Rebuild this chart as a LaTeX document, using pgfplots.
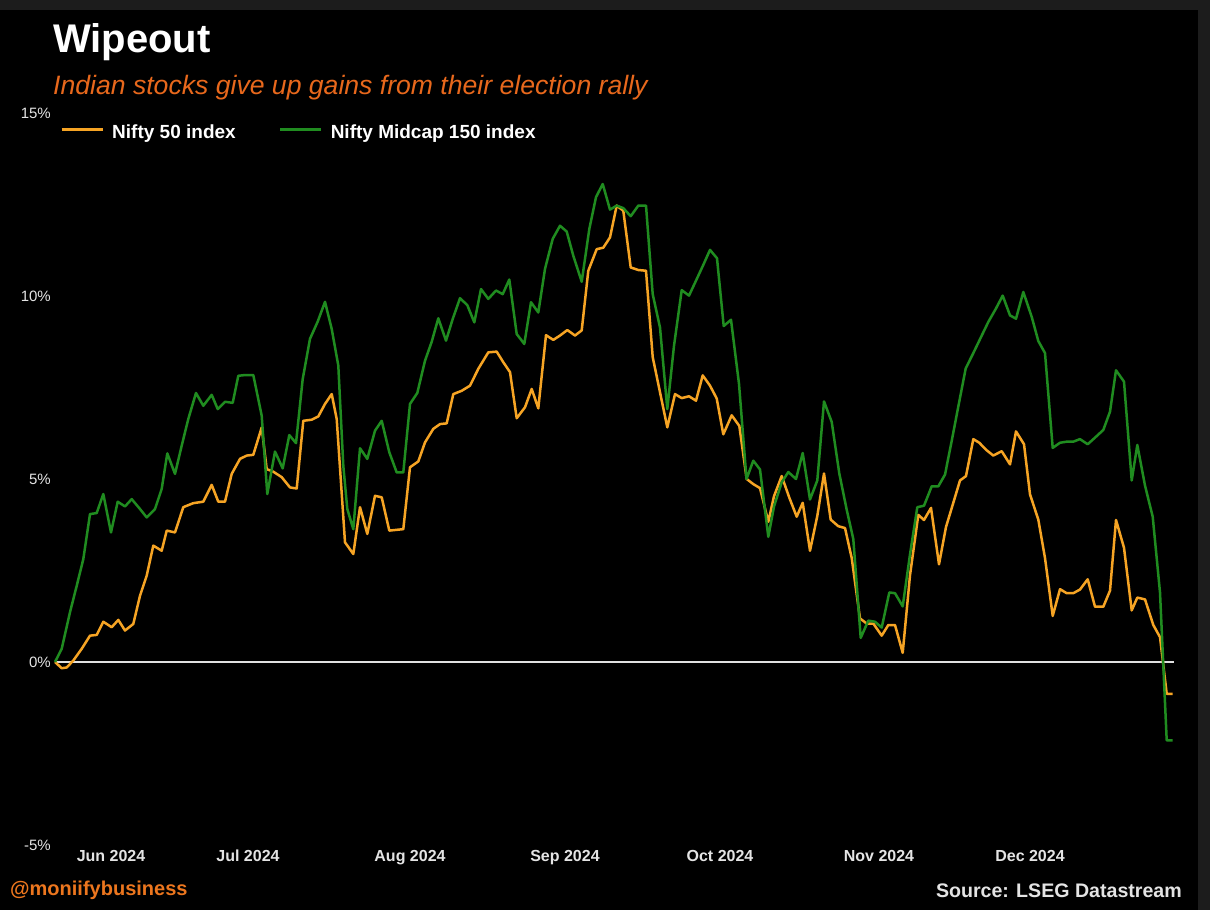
\documentclass[border=0pt]{standalone}
\usepackage{pgfplots}
\pgfplotsset{compat=1.18}
\usepackage{fontspec}
\setmainfont{Liberation Sans}
\definecolor{niftyorange}{RGB}{246,164,36}
\definecolor{midgreen}{RGB}{32,140,32}
\definecolor{subor}{RGB}{232,104,28}
\definecolor{footor}{RGB}{236,118,30}
\definecolor{framegray}{RGB}{28,28,28}
\definecolor{ticktext}{RGB}{228,228,228}

\pgfplotstableread{
x y
55 0
61.7 -0.17
66.7 -0.15
73.3 0.04
81.7 0.36
90 0.72
96.7 0.74
103.3 1.10
111.7 0.95
118.3 1.15
125 0.86
133.3 1.04
140 1.81
146.7 2.36
153.3 3.18
161.7 3.04
166.7 3.59
175 3.54
183.3 4.23
193.3 4.34
203.3 4.38
211.7 4.84
218.3 4.38
225 4.38
231.7 5.14
240 5.55
246.7 5.64
253.3 5.66
261.7 6.41
266.7 5.27
273.3 5.20
281.7 5.05
290 4.77
296.7 4.74
303.3 6.59
311.7 6.62
318.3 6.71
325 7.05
331.7 7.32
336.7 6.64
345 3.27
353.3 2.95
360 4.23
367.3 3.50
375 4.54
381.7 4.50
389.3 3.59
403.3 3.63
410 5.32
418.3 5.48
425 6.00
433.3 6.37
440 6.50
446.7 6.52
453.3 7.32
461.7 7.41
470 7.55
478.3 8.01
488.3 8.46
496.7 8.48
503.3 8.19
510 7.92
516.7 6.66
525 6.96
531.7 7.46
538.3 6.93
546 8.93
553.3 8.80
560 8.92
567.3 9.07
575 8.92
581.7 9.06
588.3 10.69
596.7 11.28
603.3 11.32
610 11.60
616.7 12.47
623.3 12.33
630.7 10.78
638.3 10.71
646 10.69
652.7 8.33
660 7.37
667.3 6.41
675 7.32
681.7 7.21
689 7.26
696 7.14
702.7 7.83
710 7.55
716.7 7.20
723.3 6.22
731.7 6.74
739.3 6.45
746.7 5.00
753.3 4.86
760 4.75
768.3 3.83
774 4.53
781.7 5.08
789.3 4.49
796.7 3.97
802.7 4.35
810 3.04
817.3 3.99
824 5.15
830.7 3.89
838.3 3.71
845 3.66
851.7 2.84
860 1.19
866.7 1.05
873.3 1.05
881.7 0.72
888.3 1.01
895 1.01
902.7 0.25
910 2.37
918.3 4.02
924 3.88
931 4.21
939 2.67
946 3.69
953.3 4.35
960 4.96
966 5.08
973.3 6.09
979.3 5.99
986 5.80
993.3 5.64
1001.7 5.76
1010 5.40
1016 6.30
1024 5.95
1030 4.58
1038.3 3.89
1045 2.84
1052.7 1.26
1060 1.99
1066.7 1.88
1073.3 1.88
1080 1.98
1087.7 2.26
1095 1.51
1103.3 1.51
1110 1.95
1116 3.88
1124 3.12
1131.7 1.41
1137.3 1.76
1145 1.71
1153.3 1.01
1160 0.68
1166.7 -0.87
1172.7 -0.87
}\niftyfifty

\pgfplotstableread{
x y
55 0
61.7 0.36
70 1.36
76.7 2.08
83.3 2.81
90 4.04
96.7 4.07
103.3 4.59
111 3.54
117.7 4.38
125 4.25
131.7 4.45
140 4.18
146.7 3.95
155 4.18
161.7 4.73
167.3 5.70
175 5.14
181.7 5.91
188.3 6.64
196 7.35
203.3 7.00
211.7 7.30
217.7 6.91
225 7.11
232.7 7.08
238.3 7.82
245 7.84
253.3 7.84
261.7 6.73
267.3 4.59
275 5.75
282.7 5.29
289.3 6.20
296 5.98
302.7 7.73
310 8.83
317.7 9.30
325 9.84
331.7 9.10
338.3 8.10
343.3 5.36
347.3 4.18
353.3 3.63
360 5.84
367.3 5.55
375 6.32
381.7 6.59
389.3 5.73
396.7 5.18
403.3 5.18
410 7.05
417.3 7.35
425 8.23
431.7 8.75
438.3 9.39
446 8.78
452.7 9.37
460 9.94
467.3 9.75
474.3 9.28
481 10.19
488.3 9.92
496 10.15
502.7 10.05
509.3 10.45
516.7 8.96
524.3 8.69
531 9.83
538.3 9.55
545 10.74
552.7 11.56
560 11.92
566.7 11.76
573.3 11.10
581.7 10.39
589.3 11.83
596 12.70
602.7 13.06
610 12.36
616.7 12.47
623.3 12.40
630.7 12.18
638.3 12.47
646 12.47
652.7 10.05
660 9.14
667.3 6.91
674 8.64
681.7 10.16
689 10.01
696 10.42
703.3 10.85
710 11.26
717 11.03
723.7 9.18
731 9.35
739 7.60
746.5 5.00
753.3 5.50
760 5.26
768.3 3.42
774 4.25
781.7 4.91
788.3 5.19
796 5.00
802.7 5.71
810 4.44
817.3 4.96
824 7.12
831.7 6.56
839.3 5.15
846.7 4.16
853.3 3.36
860.7 0.66
868.3 1.13
875 1.10
881.7 0.94
889.3 1.90
895 1.88
902.7 1.52
910 2.94
917.3 4.23
924 4.27
931.7 4.80
938.3 4.80
945 5.12
951.7 6.04
958.3 6.98
965.7 8.02
973.3 8.44
980.7 8.86
988.3 9.29
996 9.66
1002.7 10.01
1010 9.47
1016 9.38
1023.3 10.11
1031.7 9.43
1038.3 8.77
1045 8.44
1052.7 5.85
1060 5.99
1066.7 6.02
1073.3 6.02
1080 6.09
1087.7 5.95
1095 6.13
1103.3 6.34
1110 6.84
1116 7.97
1124 7.66
1131.7 4.96
1137.3 5.93
1145 4.82
1152.7 3.97
1160 1.90
1166.7 -2.14
1172.7 -2.14
}\midcap

\begin{document}
\begin{tikzpicture}
\fill[black] (0pt,0pt) rectangle (1210pt,910pt);
\path[use as bounding box] (0pt,0pt) rectangle (1210pt,910pt);
\fill[framegray] (0pt,900pt) rectangle (1210pt,910pt);
\fill[framegray] (1198pt,0pt) rectangle (1210pt,910pt);
\node[anchor=base west, inner sep=0pt, text=white, font=\fontsize{40}{44}\selectfont\bfseries] at (53pt,857pt) {Wipeout};
\node[anchor=base west, inner sep=0pt, text=subor, font=\fontsize{26.6}{28}\selectfont\itshape] at (53pt,815pt) {Indian stocks give up gains from their election rally};
\begin{axis}[
  at={(55pt,65pt)}, anchor=south west, scale only axis,
  width=1119pt, height=732pt,
  xmin=55, xmax=1174, ymin=-5, ymax=15,
  axis line style={draw=none}, major tick length=0pt,
  ytick={-5,0,5,10,15},
  yticklabels={-5\%,0\%,5\%,10\%,15\%},
  xtick={111,248,410,565,720,879,1030},
  xticklabels={Jun 2024,Jul 2024,Aug 2024,Sep 2024,Oct 2024,Nov 2024,Dec 2024},
  yticklabel style={font=\fontsize{15}{16}\selectfont, text=ticktext, anchor=east, inner sep=0pt, xshift=-4pt},
  xticklabel style={font=\fontsize{16}{17}\selectfont\bfseries, text=ticktext, anchor=north, inner sep=0pt, yshift=-5pt},
  clip=false,
  legend columns=2,
  legend style={at={(axis description cs:0.0045,0.9845)}, anchor=north west, draw=none, fill=none, text=white,
    font=\fontsize{19}{20}\selectfont\bfseries, inner sep=0pt,
    nodes={inner sep=0pt}, column sep=8pt,
    /tikz/every even column/.append style={column sep=43pt}},
  legend cell align=left,
  legend image code/.code={\draw[#1, line width=3pt] (0pt,0.25em) -- (41pt,0.25em);},
]
\addplot[forget plot, color=white!88!black, line width=1.3pt] coordinates {(55,0) (1174,0)};
\addplot[color=niftyorange, line width=2.5pt, line join=round] table[x=x,y=y] {\niftyfifty};
\addlegendentry{Nifty 50 index}
\addplot[color=midgreen, line width=2.5pt, line join=round] table[x=x,y=y] {\midcap};
\addlegendentry{Nifty Midcap 150 index}
\end{axis}
\node[anchor=base west, inner sep=0pt, text=footor, font=\fontsize{20}{22}\selectfont\bfseries] at (10pt,14pt) {@moniifybusiness};
\node[anchor=base east, inner sep=0pt, text=ticktext, font=\fontsize{19.6}{22}\selectfont\bfseries] at (1182pt,12pt) {Source: LSEG Datastream};
\end{tikzpicture}
\end{document}
